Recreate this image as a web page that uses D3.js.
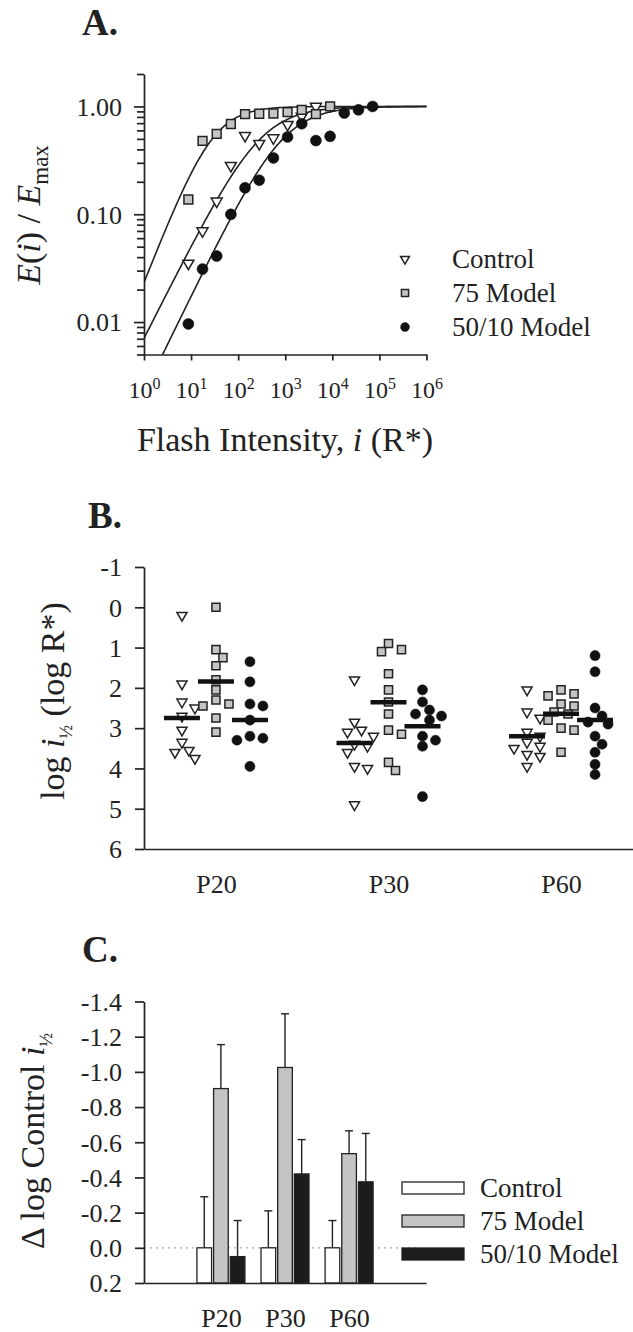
<!DOCTYPE html>
<html>
<head>
<meta charset="utf-8">
<script src="https://cdn.jsdelivr.net/npm/d3@7"></script>
<style>
  body { margin: 0; background: #fff; }
  text { font-family: "Liberation Serif", "Times New Roman", serif; fill: #222; }
  .axis path, .axis line { stroke: #222; stroke-width: 1.7; }
</style>
</head>
<body>
<svg id="fig" width="633" height="1332"></svg>
<script>
// ---- panel A: response vs flash intensity
const seriesNames = ["Control", "75 Model", "50/10 Model"];
const flashIntensity = [8.75, 17.5, 35, 70, 140, 280, 560, 1120, 2240, 4480, 8960, 17920, 35840, 71680];
const respControl = [0.035, 0.07, 0.132, 0.283, 0.536, 0.452, 0.51, 0.678, 0.81, 1.0];
const resp75 = [0.137, 0.48, 0.556, 0.687, 0.85, 0.855, 0.86, 0.887, 0.93, 0.85, 1.0];
const resp5010 = [0.0096, 0.031, 0.041, 0.0998, 0.176, 0.207, 0.333, 0.521, 0.692, 0.482, 0.528, 0.869, 0.93, 1.0];
// fitted Hill curves: log half-saturating intensity and slope
const fitLogHalf = [2.47, 1.45, 2.95];
const fitSlope = [0.87, 1.12, 0.9];
const yTicksA = [0.01, 0.1, 1];
const yTickLabelsA = ["0.01", "0.10", "1.00"];
const xTicksA = [1, 10, 100, 1e3, 1e4, 1e5, 1e6];

// ---- panel B: log i1/2 per animal, by age
const ages = ["P20", "P30", "P60"];
const halfControl = [
  [0.2, 1.9, 2.35, 2.5, 2.7, 3.05, 3.35, 3.55, 3.6, 3.75],
  [1.8, 2.85, 3.05, 3.1, 3.2, 3.4, 3.45, 3.6, 3.95, 4.0, 4.9],
  [2.05, 2.6, 2.75, 3.1, 3.2, 3.35, 3.45, 3.5, 3.65, 3.7, 3.95]
];
const half75 = [
  [0.0, 1.05, 1.25, 1.45, 1.8, 2.05, 2.3, 2.4, 2.45, 2.75, 3.1],
  [0.9, 1.05, 1.1, 1.65, 2.05, 2.35, 2.65, 3.05, 3.15, 3.85, 4.05],
  [2.05, 2.15, 2.2, 2.4, 2.45, 2.6, 2.65, 2.8, 3.0, 3.05, 3.6]
];
const half5010 = [
  [1.35, 1.85, 2.4, 2.45, 2.8, 3.2, 3.25, 3.3, 3.95],
  [2.05, 2.35, 2.55, 2.65, 2.7, 2.8, 3.2, 3.3, 3.45, 4.7],
  [1.2, 1.6, 2.5, 2.7, 2.85, 2.9, 3.2, 3.4, 3.6, 3.9, 4.15]
];
const halfMean = [
  [2.75, 3.37, 3.2],
  [1.84, 2.36, 2.64],
  [2.8, 2.95, 2.8]
];
const yTicksB = [-1, 0, 1, 2, 3, 4, 5, 6];

// ---- panel C: shift relative to control
const deltaMean = [
  [0, 0, 0],
  [-0.905, -1.025, -0.535],
  [0.05, -0.42, -0.375]
];
const deltaErr = [
  [0.29, 0.21, 0.155],
  [0.25, 0.305, 0.13],
  [0.205, 0.195, 0.275]
];
const yTicksC = [-1.4, -1.2, -1.0, -0.8, -0.6, -0.4, -0.2, 0.0, 0.2];

const svg = d3.select("#fig");
const ink = "#222";
const greyFill = "#c4c4c4";

function symbolFor(k, size) {
  if (k === 0) return d3.symbol().type(d3.symbolTriangle).size(size * 0.55)();
  if (k === 1) return d3.symbol().type(d3.symbolSquare).size(size * 0.82)();
  return d3.symbol().type(d3.symbolCircle).size(size)();
}
function styleMark(sel, k) {
  sel.attr("fill", k === 0 ? "#fff" : k === 1 ? greyFill : "#111")
    .attr("stroke", k === 2 ? "#111" : ink)
    .attr("stroke-width", k === 2 ? 0.5 : 1.5);
}

// ================= A =================
svg.append("text").attr("x", 82).attr("y", 35)
  .attr("font-size", 37).attr("font-weight", "bold").text("A.");

const xA = d3.scaleLog().domain([1, 1e6]).range([144, 426.5]);
const yA = d3.scaleLog().domain([0.005, 2]).range([354.5, 74]);

const minorA = [];
[0.001, 0.01, 0.1, 1].forEach(dec => {
  for (let m = 2; m <= 9; m++) {
    const v = +(dec * m).toPrecision(3);
    if (v >= 0.005 && v <= 2) minorA.push(v);
  }
});

const gA = svg.append("g");
gA.append("g").attr("class", "axis").attr("transform", "translate(144,0)")
  .call(d3.axisLeft(yA).tickValues(minorA).tickSize(7).tickSizeOuter(0).tickFormat(""));
const yAxA = gA.append("g").attr("class", "axis").attr("transform", "translate(144,0)")
  .call(d3.axisLeft(yA).tickValues(yTicksA).tickSize(10).tickSizeOuter(0)
    .tickFormat((d, i) => yTickLabelsA[i]));
yAxA.selectAll("text").attr("font-size", 26).attr("x", -22).attr("dy", "0.34em")
  .attr("font-family", "Liberation Serif");
yAxA.select(".domain").remove();

const xAxA = gA.append("g").attr("class", "axis").attr("transform", "translate(0,354.5)")
  .call(d3.axisBottom(xA).tickValues(xTicksA).tickSize(6).tickSizeOuter(0).tickFormat(""));
xAxA.selectAll(".tick").append("text")
  .attr("y", 43.5).attr("text-anchor", "middle").attr("font-size", 24)
  .attr("fill", ink)
  .each(function (d) {
    const t = d3.select(this);
    t.append("tspan").text("10");
    t.append("tspan").attr("dy", -9).attr("font-size", 16).text(Math.round(Math.log10(d)));
  });

// fitted curves
svg.append("clipPath").attr("id", "clipA").append("rect")
  .attr("x", 144).attr("y", 60).attr("width", 283).attr("height", 294.5);
const logGrid = d3.range(0, 6.001, 0.02);
const lineA = d3.line().x(d => xA(d[0])).y(d => yA(d[1]));
fitLogHalf.forEach((lh, k) => {
  const pts = logGrid.map(l => {
    const r = Math.pow(10, fitSlope[k] * (l - lh));
    return [Math.pow(10, l), r / (1 + r)];
  });
  svg.append("path").attr("clip-path", "url(#clipA)").attr("d", lineA(pts))
    .attr("fill", "none").attr("stroke", ink).attr("stroke-width", 1.6);
});

[respControl, resp75, resp5010].forEach((vals, k) => {
  svg.append("g").selectAll("path").data(vals).join("path")
    .attr("transform", (d, i) => `translate(${xA(flashIntensity[i])},${yA(d)})` + (k === 0 ? " rotate(180)" : ""))
    .attr("d", symbolFor(k, 95))
    .call(styleMark, k);
});

// legend A
seriesNames.forEach((name, k) => {
  const y = 259 + k * 34;
  svg.append("path").attr("transform", `translate(405,${y})` + (k === 0 ? " rotate(180)" : ""))
    .attr("d", symbolFor(k, 62)).call(styleMark, k);
  svg.append("text").attr("x", 452).attr("y", y).attr("dy", "0.35em")
    .attr("font-size", 27).text(name);
});

svg.append("text").attr("x", 285).attr("y", 451).attr("text-anchor", "middle")
  .attr("font-size", 34)
  .call(t => {
    t.append("tspan").text("Flash Intensity, ");
    t.append("tspan").attr("font-style", "italic").text("i");
    t.append("tspan").text(" (R*)");
  });
svg.append("text").attr("transform", "translate(40,215) rotate(-90)")
  .attr("text-anchor", "middle").attr("font-size", 34)
  .call(t => {
    t.append("tspan").attr("font-style", "italic").text("E");
    t.append("tspan").text("(");
    t.append("tspan").attr("font-style", "italic").text("i");
    t.append("tspan").text(") / ");
    t.append("tspan").attr("font-style", "italic").text("E");
    t.append("tspan").attr("dy", 8).attr("font-size", 23).text("max");
  });

// ================= B =================
svg.append("text").attr("x", 88).attr("y", 528)
  .attr("font-size", 37).attr("font-weight", "bold").text("B.");

const xB = d3.scalePoint().domain(ages).range([144, 633]).padding(0.417);
const offB = d3.scalePoint().domain(seriesNames).range([-34, 34]);
const yB = d3.scaleLinear().domain([-1, 6]).range([567, 849]);

const yAxB = svg.append("g").attr("class", "axis").attr("transform", "translate(144,0)")
  .call(d3.axisLeft(yB).tickValues(yTicksB).tickSize(9).tickSizeOuter(0).tickFormat(d => String(d)));
yAxB.selectAll("text").attr("font-size", 26).attr("x", -22).attr("dy", "0.34em");

const xAxB = svg.append("g").attr("class", "axis").attr("transform", "translate(0,849)")
  .call(d3.axisBottom(xB).tickSize(0).tickSizeOuter(0));
xAxB.selectAll("text").attr("font-size", 26).attr("y", 44).attr("dy", 0);

function swarm(vals, cx) {
  const placed = [];
  const out = new Array(vals.length);
  const order = vals.map((v, i) => i).sort((a, b) => vals[a] - vals[b]);
  const cands = [0, 7, -7, 13, -13, 19, -19];
  order.forEach(i => {
    const y = yB(vals[i]);
    let dx = cands.find(c => placed.every(p => Math.hypot(p.dx - c, p.y - y) >= 9.5));
    if (dx === undefined) dx = 0;
    placed.push({ dx, y });
    out[i] = { x: cx + dx, y };
  });
  return out;
}

[halfControl, half75, half5010].forEach((byAge, k) => {
  ages.forEach((age, a) => {
    const cx = xB(age) + offB(seriesNames[k]);
    const pos = swarm(byAge[a], cx);
    svg.append("g").selectAll("path").data(pos).join("path")
      .attr("transform", d => `translate(${d.x},${d.y})` + (k === 0 ? " rotate(180)" : ""))
      .attr("d", symbolFor(k, 80))
      .call(styleMark, k);
  });
});
halfMean.forEach((means, k) => {
  svg.append("g").selectAll("line").data(means).join("line")
    .attr("x1", (d, a) => xB(ages[a]) + offB(seriesNames[k]) - 18)
    .attr("x2", (d, a) => xB(ages[a]) + offB(seriesNames[k]) + 18)
    .attr("y1", d => yB(d)).attr("y2", d => yB(d))
    .attr("stroke", "#111").attr("stroke-width", 4.5);
});

svg.append("text").attr("transform", "translate(64,701) rotate(-90)")
  .attr("text-anchor", "middle").attr("font-size", 34)
  .call(t => {
    t.append("tspan").text("log ");
    t.append("tspan").attr("font-style", "italic").text("i");
    t.append("tspan").attr("dy", 8).attr("font-size", 18).text("½");
    t.append("tspan").attr("dy", -8).text(" (log R*)");
  });

// ================= C =================
svg.append("text").attr("x", 82).attr("y", 962)
  .attr("font-size", 37).attr("font-weight", "bold").text("C.");

const xC = d3.scalePoint().domain(ages).range([144, 426]).padding(1.2);
const inC = d3.scaleBand().domain(seriesNames).range([-24, 24]).paddingInner(0.12);
const yC = d3.scaleLinear().domain([0.2, -1.4]).range([1283, 1001.5]);
const barFill = ["#fff", greyFill, "#1c1c1c"];

svg.append("line").attr("x1", 144).attr("x2", 420).attr("y1", yC(0)).attr("y2", yC(0))
  .attr("stroke", "#aaa").attr("stroke-width", 1.3).attr("stroke-dasharray", "2,4");

deltaMean.forEach((vals, k) => {
  const g = svg.append("g");
  g.selectAll("line").data(vals).join("line")
    .attr("x1", (d, a) => xC(ages[a]) + inC(seriesNames[k]) + inC.bandwidth() / 2)
    .attr("x2", (d, a) => xC(ages[a]) + inC(seriesNames[k]) + inC.bandwidth() / 2)
    .attr("y1", d => yC(d))
    .attr("y2", (d, a) => yC(d - deltaErr[k][a]))
    .attr("stroke", ink).attr("stroke-width", 1.4);
  g.selectAll("line.cap").data(vals).join("line").attr("class", "cap")
    .attr("x1", (d, a) => xC(ages[a]) + inC(seriesNames[k]) + inC.bandwidth() / 2 - 4)
    .attr("x2", (d, a) => xC(ages[a]) + inC(seriesNames[k]) + inC.bandwidth() / 2 + 4)
    .attr("y1", (d, a) => yC(d - deltaErr[k][a]))
    .attr("y2", (d, a) => yC(d - deltaErr[k][a]))
    .attr("stroke", ink).attr("stroke-width", 1.4);
  g.selectAll("rect").data(vals).join("rect")
    .attr("x", (d, a) => xC(ages[a]) + inC(seriesNames[k]))
    .attr("width", inC.bandwidth())
    .attr("y", d => yC(d))
    .attr("height", d => yC(0.2) - yC(d))
    .attr("fill", barFill[k]).attr("stroke", ink).attr("stroke-width", 1.3);
});

const yAxC = svg.append("g").attr("class", "axis").attr("transform", "translate(144,0)")
  .call(d3.axisLeft(yC).tickValues(yTicksC).tickSize(9).tickSizeOuter(0).tickFormat(d => d.toFixed(1)));
yAxC.selectAll("text").attr("font-size", 26).attr("x", -22).attr("dy", "0.34em");

const xAxC = svg.append("g").attr("class", "axis").attr("transform", "translate(0,1283)")
  .call(d3.axisBottom(xC).tickSize(0).tickSizeOuter(0));
xAxC.selectAll("text").attr("font-size", 26).attr("y", 44).attr("dy", 0);

seriesNames.forEach((name, k) => {
  const y = 1188 + k * 33;
  svg.append("rect").attr("x", 402).attr("y", y - 6).attr("width", 62).attr("height", 12)
    .attr("fill", barFill[k]).attr("stroke", ink).attr("stroke-width", 1.3);
  svg.append("text").attr("x", 480).attr("y", y).attr("dy", "0.35em")
    .attr("font-size", 27).text(name);
});

svg.append("text").attr("transform", "translate(44,1141) rotate(-90)")
  .attr("text-anchor", "middle").attr("font-size", 34)
  .call(t => {
    t.append("tspan").text("Δ log Control ");
    t.append("tspan").attr("font-style", "italic").text("i");
    t.append("tspan").attr("dy", 8).attr("font-size", 18).text("½");
  });
</script>
</body>
</html>
